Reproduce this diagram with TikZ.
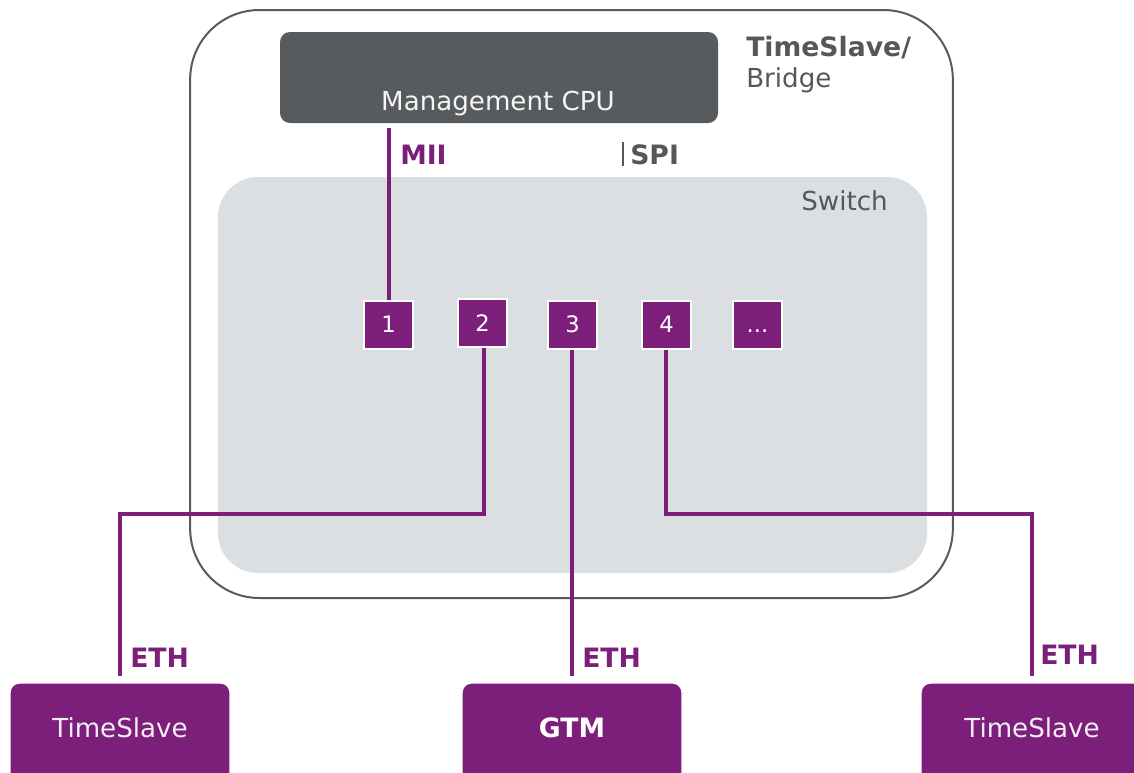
\documentclass[tikz,border=0pt]{standalone}
\usepackage{fontspec}
\setmainfont{DejaVu Sans}
\begin{document}
\begin{tikzpicture}[x=0.75pt,y=-0.75pt,
  txt/.style={font=\fontsize{19.6pt}{22pt}\selectfont, inner sep=0pt},
  btxt/.style={font=\fontsize{20pt}{22pt}\selectfont\bfseries, inner sep=0pt},
  port/.style={draw=white, line width=1.5pt, fill=purp, minimum width=37pt, minimum height=36pt, inner sep=0pt, text=white, font=\fontsize{17pt}{18pt}\selectfont, text height=12.4pt, text depth=0pt},
  endbox/.style={fill=purp, draw=white, line width=1pt, rounded corners=7pt, minimum height=75pt, inner sep=0pt},
  wire/.style={draw=purp, line width=2.4pt},
]
\definecolor{purp}{HTML}{7B1F7A}
\definecolor{dgray}{HTML}{575B5D}
\definecolor{lgray}{HTML}{DCDFE1}
\definecolor{tgray}{HTML}{555759}
\definecolor{bgray}{HTML}{5A5A5A}
\useasboundingbox (0,0) rectangle (1134,772);
\clip (0,0) rectangle (1134,772);
% outer bridge
\node[draw=bgray, line width=1.5pt, rounded corners=52pt, minimum width=572pt, minimum height=441pt, inner sep=0pt] (bridge) at (571.5,304) {};
% switch
\node[fill=lgray, rounded corners=30pt, minimum width=531.75pt, minimum height=297pt, inner sep=0pt] (switch) at (572.5,375) {};
\node[txt, text=tgray, anchor=west] (switchlbl) at (801,201) {Switch};
% management cpu
\node[fill=dgray, rounded corners=7.5pt, minimum width=328.5pt, minimum height=68.25pt, inner sep=0pt] (mcpu) at (499,77.5) {};
\node[txt, text=white!92!gray] (mcpulbl) at (498,104) {Management CPU};
% title
\node[btxt, text=tgray, anchor=west] (title1) at (746,48) {TimeSlave/};
\node[txt, text=tgray, anchor=west] (title2) at (746,80) {Bridge};
% ports
\node[port] (p1) at (388.5,324.5) {1};
\node[port] (p2) at (482.5,323) {2};
\node[port] (p3) at (572.5,324.5) {3};
\node[port] (p4) at (666.5,324.5) {4};
\node[port] (p5) at (757.5,324.5) {...};
% MII
\coordinate (miitop) at (389,128);
\draw[wire] (miitop) -- (miitop |- p1.north);
\node[btxt, text=purp, anchor=west] (mii) at (400,155) {MII};
% SPI
\coordinate (spitop) at (623,142);
\coordinate (spibot) at (623,166);
\draw[tgray, line width=1.2pt] (spitop) -- (spibot);
\node[btxt, text=tgray, anchor=west] (spi) at (630,155) {SPI};
% end devices
\node[endbox, minimum width=165pt] (ts1) at (120,733) {};
\node[txt, text=white!92!purp] (ts1lbl) at (120,728) {TimeSlave};
\node[endbox, minimum width=165pt] (gtm) at (572,733) {};
\node[btxt, text=white] (gtmlbl) at (572,728) {GTM};
\node[endbox, minimum width=166.5pt] (ts2) at (1032,733) {};
\node[txt, text=white!92!purp] (ts2lbl) at (1032,728) {TimeSlave};
% wires
\coordinate (bend2) at (484,514);
\coordinate (bend4) at (666,514);
\draw[wire, shorten >=5pt] (p2.south -| bend2) -- (bend2) -| (ts1.north);
\draw[wire, shorten >=5pt] (p3.south -| gtm.north) -- (gtm.north);
\draw[wire, shorten >=5pt] (p4.south -| bend4) -- (bend4) -| (ts2.north);
% ETH labels
\node[btxt, text=purp, anchor=west] (eth1) at (130,658) {ETH};
\node[btxt, text=purp, anchor=west] (eth2) at (582,658) {ETH};
\node[btxt, text=purp, anchor=west] (eth3) at (1040,655) {ETH};
\end{tikzpicture}
\end{document}
